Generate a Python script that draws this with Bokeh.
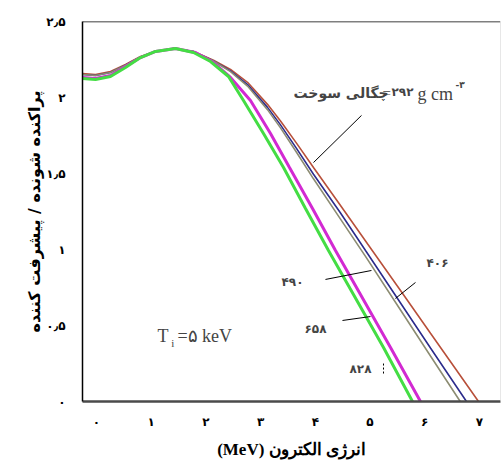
from bokeh.plotting import figure
from bokeh.models import Range1d, FixedTicker, Label, Span
from bokeh.embed import file_html
from bokeh.resources import INLINE

# Electron energy (MeV) and forward / scattered ratio for each fuel density (g cm^-3)
energy_292 = [-0.256, -0.018, 0.256, 0.530, 0.804, 1.079, 1.408, 1.773, 2.139, 2.450,
              2.761, 3.126, 3.364, 3.656, 3.967, 4.461, 4.954, 5.558, 6.106, 6.563, 6.984]
ratio_292 = [2.158, 2.151, 2.171, 2.217, 2.270, 2.303, 2.322, 2.303, 2.245, 2.185,
             2.100, 1.955, 1.845, 1.700, 1.540, 1.290, 1.038, 0.730, 0.449, 0.216, 0.0]

energy_406 = [-0.256, -0.018, 0.256, 0.530, 0.804, 1.079, 1.408, 1.773, 2.139, 2.450,
              2.761, 3.126, 3.364, 3.656, 3.967, 4.461, 4.918, 5.558, 6.106, 6.764]
ratio_406 = [2.151, 2.145, 2.165, 2.213, 2.266, 2.303, 2.322, 2.303, 2.240, 2.175,
             2.085, 1.935, 1.820, 1.665, 1.495, 1.240, 0.993, 0.648, 0.352, 0.0]

energy_490 = [-0.256, -0.018, 0.256, 0.530, 0.804, 1.079, 1.408, 1.773, 2.139, 2.450,
              2.761, 3.126, 3.364, 3.656, 3.967, 4.461, 4.918, 5.558, 6.106, 6.650]
ratio_490 = [2.151, 2.145, 2.165, 2.213, 2.266, 2.303, 2.322, 2.303, 2.240, 2.170,
             2.075, 1.920, 1.800, 1.640, 1.465, 1.200, 0.955, 0.602, 0.299, 0.0]

energy_658 = [-0.256, -0.018, 0.256, 0.530, 0.804, 1.079, 1.444, 1.810, 2.139, 2.450,
              2.815, 3.181, 3.528, 3.949, 4.369, 4.826, 5.375, 5.923]
ratio_658 = [2.132, 2.125, 2.145, 2.204, 2.263, 2.303, 2.322, 2.296, 2.230, 2.132,
             1.980, 1.763, 1.539, 1.270, 0.993, 0.704, 0.355, 0.0]

energy_828 = [-0.256, -0.018, 0.256, 0.530, 0.804, 1.079, 1.444, 1.773, 2.084, 2.413,
              2.687, 3.053, 3.419, 3.821, 4.241, 4.698, 5.247, 5.777]
ratio_828 = [2.125, 2.118, 2.138, 2.197, 2.263, 2.303, 2.322, 2.296, 2.237, 2.138,
             1.980, 1.763, 1.539, 1.270, 0.993, 0.704, 0.355, 0.0]

x_ticks = [0, 1, 2, 3, 4, 5, 6, 7]
x_tick_labels = ["۰", "۱", "۲", "۳", "۴", "۵", "۶", "۷"]
y_ticks = [0, 0.5, 1, 1.5, 2, 2.5]
y_tick_labels = ["۰", "۰٫۵", "۱", "۱٫۵", "۲", "۲٫۵"]

PERSIAN = "DejaVu Sans"
SERIF = "Liberation Serif"

p = figure(width=502, height=465,
           x_range=Range1d(-0.256, 7.386), y_range=Range1d(0, 2.5),
           output_backend="svg", toolbar_location=None,
           min_border_left=82, min_border_top=21,
           min_border_bottom=64, min_border_right=2)
p.background_fill_color = "white"
p.border_fill_color = "white"
p.outline_line_color = None
p.xgrid.visible = False
p.ygrid.visible = False

# curves, thin ones first so the thick pair sits on top
p.line(energy_292, ratio_292, line_color="#b8503a", line_width=1.6)
p.line(energy_406, ratio_406, line_color="#2c2c8c", line_width=1.6)
p.line(energy_490, ratio_490, line_color="#8c8c72", line_width=1.6)
p.line(energy_658, ratio_658, line_color="#d22ad2", line_width=3)
p.line(energy_828, ratio_828, line_color="#44dd44", line_width=3)

# axes
for ax in (p.xaxis[0], p.yaxis[0]):
    ax.major_tick_line_color = None
    ax.minor_tick_line_color = None
    ax.major_label_text_font = PERSIAN
    ax.major_label_text_font_size = "12px"
    ax.major_label_text_font_style = "bold"
    ax.major_label_text_color = "black"
    ax.axis_label_text_font_style = "bold"
    ax.axis_label_text_color = "black"

p.xaxis.ticker = FixedTicker(ticks=x_ticks)
p.xaxis.major_label_overrides = {t: s for t, s in zip(x_ticks, x_tick_labels)}
p.xaxis.axis_line_color = "#4a4a4a"
p.xaxis.axis_line_width = 2.5
p.xaxis.major_label_standoff = 7
p.xaxis.axis_label = "(MeV) انرژی الکترون"
p.xaxis.axis_label_text_font = SERIF
p.xaxis.axis_label_text_font_size = "17px"
p.xaxis.axis_label_standoff = 8

p.yaxis.ticker = FixedTicker(ticks=y_ticks)
p.yaxis.major_label_overrides = {t: s for t, s in zip(y_ticks, y_tick_labels)}
p.yaxis.axis_line_color = "black"
p.yaxis.axis_line_width = 1.5
p.yaxis.major_label_standoff = 11
p.yaxis.axis_label = "پراکنده شونده / پیشرفت کننده"
p.yaxis.axis_label_text_font = PERSIAN
p.yaxis.axis_label_text_font_size = "16px"
p.yaxis.axis_label_standoff = -1

# frame edges top and right
p.add_layout(Span(location=2.5, dimension="width", line_color="black", line_width=1.5))
p.add_layout(Span(location=7.386, dimension="height", line_color="#d0d0d0", line_width=1))

# density annotation with leader line
p.add_layout(Label(x=3.601, y=2.030, text="چگالی سوخت", text_font=PERSIAN,
                   text_font_size="14px", text_font_style="bold",
                   text_align="left", text_baseline="middle"))
p.add_layout(Label(x=5.228, y=2.030, text="=", text_font=SERIF,
                   text_font_size="15px", text_align="left", text_baseline="middle"))
p.add_layout(Label(x=5.393, y=2.035, text="۲۹۲", text_font=PERSIAN,
                   text_font_size="12px", text_font_style="bold",
                   text_align="left", text_baseline="middle"))
p.add_layout(Label(x=5.868, y=2.020, text="g cm", text_font=SERIF,
                   text_font_size="18px", text_align="left", text_baseline="middle"))
p.add_layout(Label(x=6.563, y=2.082, text="-۳", text_font=PERSIAN,
                   text_font_size="9px", text_font_style="bold",
                   text_align="left", text_baseline="middle"))
p.line([3.967, 4.845], [1.572, 1.882], line_color="black", line_width=1)

# other density labels and leaders
p.add_layout(Label(x=6.234, y=0.908, text="۴۰۶", text_font=PERSIAN, text_font_size="12px",
                   text_font_style="bold", text_align="center", text_baseline="middle"))
p.line([5.466, 5.832], [0.678, 0.783], line_color="black", line_width=1)

p.add_layout(Label(x=3.583, y=0.783, text="۴۹۰", text_font=PERSIAN, text_font_size="12px",
                   text_font_style="bold", text_align="center", text_baseline="middle"))
p.line([4.186, 5.027], [0.803, 0.862], line_color="black", line_width=1)

p.add_layout(Label(x=4.004, y=0.480, text="۶۵۸", text_font=PERSIAN, text_font_size="12px",
                   text_font_style="bold", text_align="center", text_baseline="middle"))
p.line([4.497, 5.009], [0.533, 0.559], line_color="black", line_width=1)

p.add_layout(Label(x=4.826, y=0.217, text="۸۲۸", text_font=PERSIAN, text_font_size="12px",
                   text_font_style="bold", text_align="center", text_baseline="middle"))
p.line([5.247, 5.247], [0.184, 0.257], line_color="black", line_width=1, line_dash="2 2")

# ion temperature
p.add_layout(Label(x=1.115, y=0.434, text="T", text_font=SERIF, text_font_size="18px",
                   text_align="left", text_baseline="middle"))
p.add_layout(Label(x=1.365, y=0.385, text="i", text_font=SERIF, text_font_size="11px",
                   text_align="left", text_baseline="middle"))
p.add_layout(Label(x=1.48, y=0.434, text="=۵ keV", text_font=SERIF, text_font_size="18px",
                   text_align="left", text_baseline="middle"))

open("out.html", "w").write(file_html(p, INLINE))
